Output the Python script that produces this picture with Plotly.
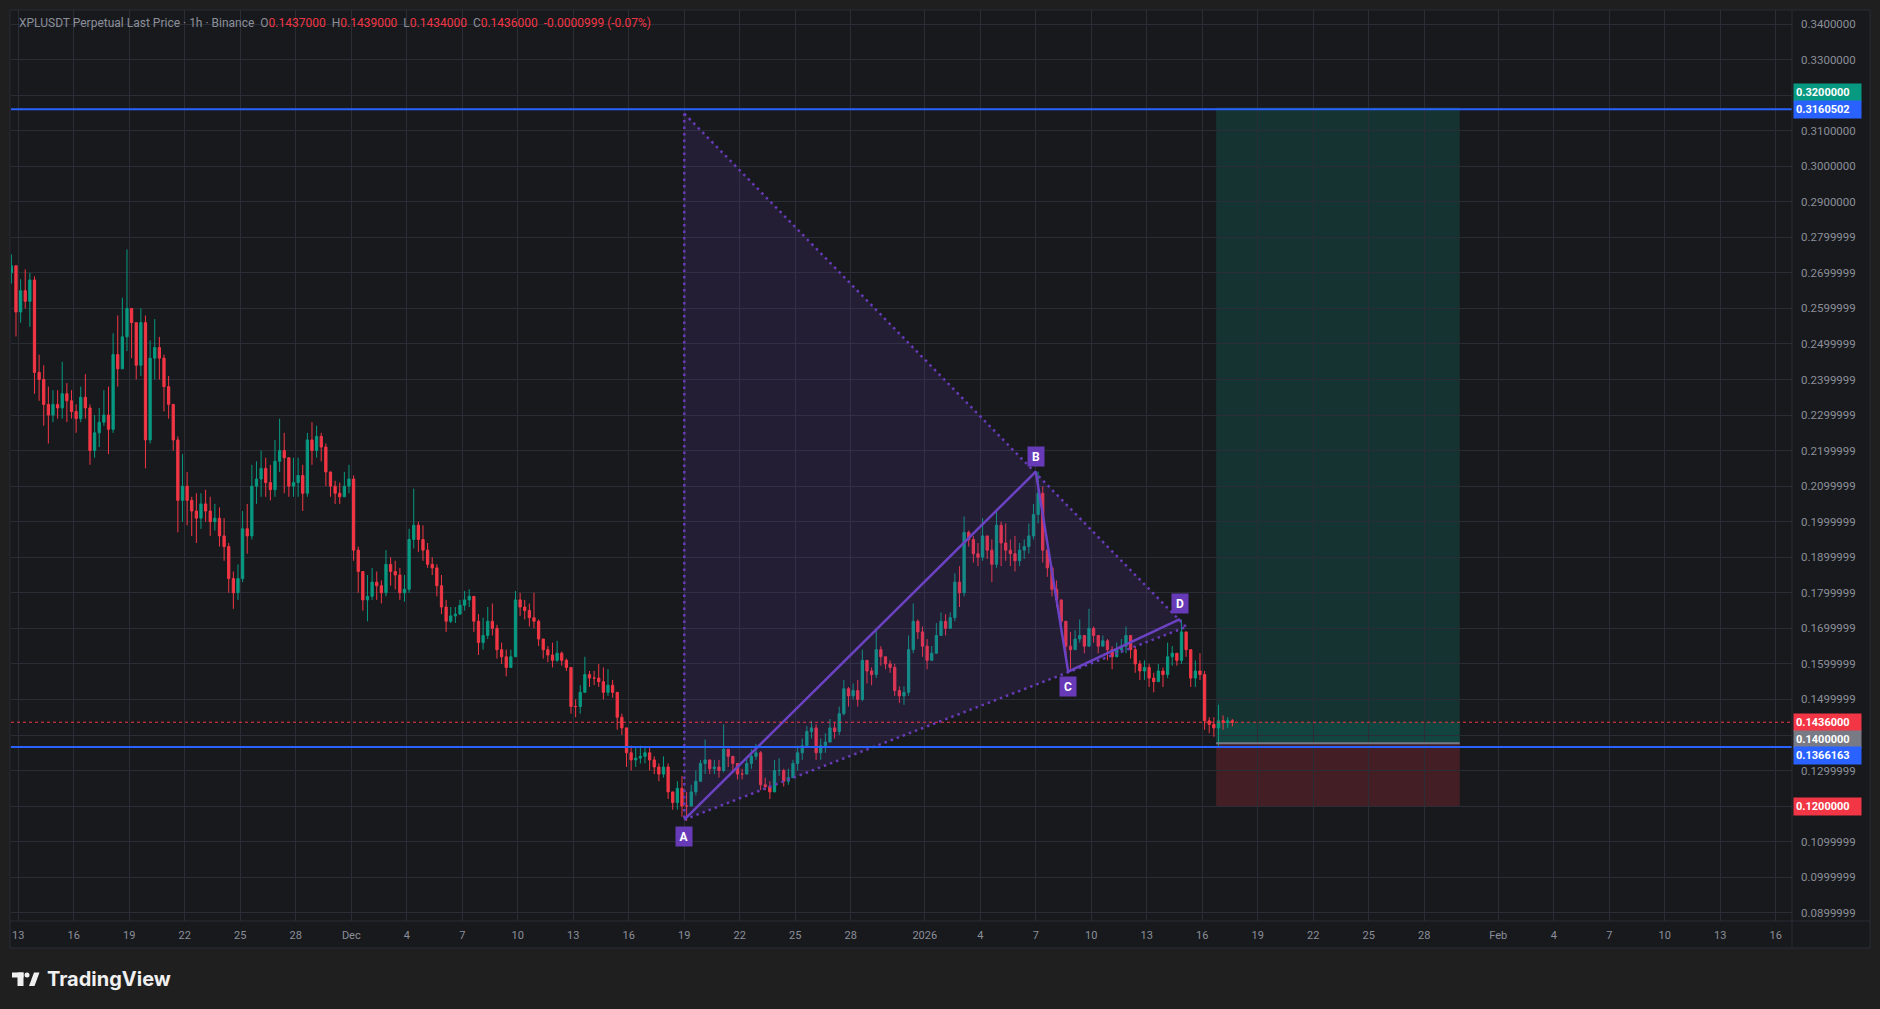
import plotly.graph_objects as go
import pandas as pd

# ---------------- data ----------------
# 6-hour candles, centred at 03/09/15/21h, first one 2025-11-12 15:00 (values in 1e-4 units)
FIRST_CANDLE = "2025-11-12 15:00"
FIRST_OPEN = 2700

close_1e4 = [
    2720, 2590,                      # Nov 12
    2650, 2620, 2680, 2420,          # Nov 13
    2400, 2330, 2300, 2330,          # Nov 14
    2320, 2360, 2340, 2310,          # Nov 15
    2290, 2350, 2320, 2200,          # Nov 16
    2250, 2280, 2300, 2260,          # Nov 17
    2470, 2430, 2520, 2600,          # Nov 18
    2560, 2440, 2560, 2230,          # Nov 19
    2460, 2490, 2460, 2380,          # Nov 20
    2330, 2230, 2060, 2100,          # Nov 21
    2060, 2030, 2010, 2050,          # Nov 22
    2030, 2000, 2010, 1960,          # Nov 23
    1930, 1840, 1800, 1840,          # Nov 24
    1980, 1960, 2100, 2120,          # Nov 25
    2150, 2110, 2090, 2170,          # Nov 26
    2200, 2180, 2100, 2110,          # Nov 27
    2130, 2080, 2230, 2200,          # Nov 28
    2240, 2210, 2140, 2100,          # Nov 29
    2080, 2070, 2100, 2120,          # Nov 30
    1920, 1860, 1780, 1790,          # Dec 1
    1830, 1820, 1800, 1880,          # Dec 2
    1860, 1850, 1800, 1810,          # Dec 3
    1950, 1990, 1950, 1920,          # Dec 4
    1880, 1870, 1820, 1760,          # Dec 5
    1720, 1735, 1740, 1765,          # Dec 6
    1780, 1790, 1720, 1660,          # Dec 7
    1680, 1720, 1700, 1640,          # Dec 8
    1620, 1590, 1620, 1780,          # Dec 9
    1760, 1750, 1730, 1720,          # Dec 10
    1670, 1640, 1625, 1610,          # Dec 11
    1630, 1610, 1590, 1480,          # Dec 12
    1480, 1520, 1570, 1560,          # Dec 13
    1560, 1550, 1520, 1540,          # Dec 14
    1520, 1450, 1420, 1350,          # Dec 15
    1330, 1335, 1340, 1350,          # Dec 16
    1330, 1310, 1290, 1310,          # Dec 17
    1240, 1210, 1250, 1200,          # Dec 18
    1200, 1240, 1270, 1320,          # Dec 19
    1330, 1305, 1310, 1300,          # Dec 20
    1360, 1340, 1320, 1290,          # Dec 21
    1290, 1320, 1340, 1350,          # Dec 22
    1260, 1255, 1240, 1300,          # Dec 23
    1300, 1270, 1280, 1320,          # Dec 24
    1350, 1370, 1410, 1420,          # Dec 25
    1350, 1370, 1380, 1420,          # Dec 26
    1410, 1460, 1530, 1510,          # Dec 27
    1525, 1500, 1610, 1580,          # Dec 28
    1570, 1640, 1620, 1600,          # Dec 29
    1590, 1525, 1510, 1520,          # Dec 30
    1640, 1720, 1690, 1650,          # Dec 31
    1610, 1630, 1680, 1720,          # Jan 1
    1700, 1730, 1830, 1800,          # Jan 2
    1970, 1950, 1910, 1900,          # Jan 3
    1960, 1920, 1880, 1990,          # Jan 4
    1940, 1920, 1910, 1890,          # Jan 5
    1920, 1930, 1960, 2020,          # Jan 6
    2080, 1920, 1870, 1810,          # Jan 7
    1780, 1720, 1650, 1640,          # Jan 8
    1670, 1680, 1650, 1700,          # Jan 9
    1680, 1650, 1665, 1640,          # Jan 10
    1620, 1640, 1650, 1680,          # Jan 11
    1640, 1600, 1580, 1590,          # Jan 12
    1560, 1550, 1580, 1570,          # Jan 13
    1620, 1630, 1610, 1690,          # Jan 14
    1640, 1560, 1580, 1570,          # Jan 15
    1440, 1430, 1420, 1440,          # Jan 16
    1435, 1440, 1436,                # Jan 17
]

high_1e4 = [
    2752, 2720,
    2682, 2710, 2700, 2690,
    2470, 2440, 2380, 2370,
    2370, 2450, 2390, 2370,
    2330, 2380, 2415, 2330,
    2300, 2320, 2370, 2380,
    2530, 2580, 2630, 2766,
    2600, 2530, 2600, 2580,
    2510, 2570, 2520, 2470,
    2410, 2330, 2240, 2190,
    2140, 2070, 2080, 2080,
    2090, 2070, 2050, 2040,
    2010, 1940, 1860, 1880,
    2030, 2050, 2160, 2170,
    2200, 2180, 2160, 2230,
    2290, 2250, 2180, 2180,
    2180, 2160, 2250, 2280,
    2270, 2250, 2220, 2140,
    2115, 2110, 2140, 2160,
    2130, 1930, 1850, 1850,
    1870, 1860, 1835, 1920,
    1900, 1890, 1870, 1850,
    1980, 2093, 2000, 1990,
    1940, 1900, 1880, 1850,
    1780, 1760, 1760, 1780,
    1805, 1810, 1790, 1740,
    1730, 1760, 1770, 1710,
    1660, 1640, 1640, 1805,
    1800, 1780, 1770, 1800,
    1725, 1670, 1650, 1660,
    1665, 1635, 1615, 1590,
    1500, 1540, 1620, 1580,
    1580, 1600, 1590, 1585,
    1555, 1520, 1460, 1420,
    1370, 1365, 1370, 1365,
    1365, 1340, 1320, 1340,
    1320, 1240, 1270, 1285,
    1240, 1260, 1300, 1330,
    1387, 1330, 1330, 1330,
    1430, 1360, 1340, 1320,
    1305, 1340, 1360, 1375,
    1355, 1280, 1270, 1330,
    1335, 1305, 1305, 1330,
    1370, 1390, 1425, 1440,
    1430, 1390, 1405, 1445,
    1435, 1480, 1555, 1535,
    1545, 1555, 1640, 1610,
    1590, 1700, 1650, 1620,
    1610, 1600, 1537, 1537,
    1680, 1770, 1725, 1705,
    1670, 1650, 1715, 1745,
    1740, 1745, 1855, 1875,
    2015, 1975, 1960, 1940,
    2010, 1960, 1950, 2030,
    2000, 1995, 1950, 1960,
    1940, 1950, 1995, 2050,
    2141, 2100, 1930, 1875,
    1835, 1780, 1705, 1690,
    1695, 1725, 1680, 1755,
    1705, 1680, 1680, 1670,
    1650, 1660, 1670, 1705,
    1680, 1650, 1610, 1610,
    1600, 1575, 1600, 1590,
    1660, 1650, 1630, 1725,
    1690, 1630, 1610, 1630,
    1580, 1450, 1450, 1485,
    1455, 1450, 1445,
]

low_1e4 = [
    2670, 2521,
    2560, 2600, 2548, 2360,
    2340, 2270, 2220, 2280,
    2290, 2290, 2280, 2290,
    2250, 2280, 2290, 2160,
    2180, 2210, 2270, 2190,
    2250, 2380, 2460, 2480,
    2460, 2400, 2410, 2150,
    2220, 2400, 2400, 2310,
    2290, 2200, 1970, 2000,
    1990, 1960, 1940, 1980,
    2000, 1960, 1975, 1930,
    1890, 1800, 1755, 1780,
    1830, 1910, 1950, 2050,
    2070, 2070, 2060, 2070,
    2140, 2080, 2070, 2070,
    2070, 2030, 2070, 2160,
    2180, 2170, 2100, 2070,
    2050, 2050, 2070, 2080,
    1890, 1800, 1750, 1720,
    1780, 1780, 1770, 1790,
    1820, 1810, 1780, 1775,
    1800, 1925, 1915, 1890,
    1870, 1850, 1790, 1740,
    1690, 1715, 1715, 1740,
    1750, 1760, 1690, 1625,
    1640, 1670, 1680, 1615,
    1600, 1565, 1590, 1620,
    1735, 1725, 1705, 1700,
    1650, 1615, 1605, 1590,
    1605, 1595, 1580, 1460,
    1450, 1460, 1530, 1535,
    1540, 1535, 1500, 1510,
    1505, 1415, 1400, 1310,
    1300, 1310, 1320, 1320,
    1300, 1290, 1270, 1280,
    1220, 1190, 1190, 1170,
    1158, 1200, 1230, 1280,
    1290, 1290, 1290, 1280,
    1295, 1310, 1300, 1275,
    1275, 1295, 1305, 1330,
    1245, 1245, 1220, 1255,
    1285, 1255, 1260, 1285,
    1300, 1330, 1380, 1390,
    1330, 1330, 1350, 1390,
    1390, 1400, 1455, 1480,
    1500, 1480, 1495, 1545,
    1540, 1560, 1595, 1585,
    1575, 1510, 1490, 1485,
    1510, 1630, 1670, 1620,
    1585, 1610, 1650, 1685,
    1680, 1705, 1720, 1760,
    1790, 1930, 1885, 1875,
    1890, 1895, 1830, 1870,
    1875, 1890, 1875, 1860,
    1875, 1895, 1910, 1950,
    1995, 1885, 1845, 1790,
    1760, 1695, 1620, 1585,
    1640, 1660, 1630, 1650,
    1660, 1630, 1650, 1610,
    1585, 1620, 1630, 1630,
    1615, 1575, 1555, 1555,
    1535, 1520, 1555, 1535,
    1560, 1595, 1595, 1600,
    1620, 1535, 1535, 1555,
    1415, 1405, 1395, 1367,
    1415, 1420, 1424,
]

# pattern drawing (X on top of the vertical dotted line, apex where dotted lines meet)
pattern_labels = ["A", "B", "C", "D"]
pattern_time = ["2025-12-19 00:00", "2026-01-07 00:00", "2026-01-08 18:00", "2026-01-14 19:00"]
pattern_price = [0.1162, 0.2141, 0.1578, 0.1726]
x_point_time, x_point_price = "2025-12-19 00:00", 0.3148
apex_time, apex_price = "2026-01-15 03:00", 0.1704

# horizontal lines
blue_levels = [0.3160502, 0.1366163]
last_price = 0.1436

# long position tool
pos_start, pos_end = "2026-01-16 18:00", "2026-01-29 22:00"
pos_target_top = 0.3165
pos_entry = 0.1377
pos_stop = 0.1200

# price-scale labels: (price, text, colour, pixel shift)
scale_labels = [
    (0.3200000, "0.3200000", "#089981", 3),
    (0.3160502, "0.3160502", "#2962ff", 0),
    (0.1436000, "0.1436000", "#f23645", 0),
    (0.1400000, "0.1400000", "#787b86", -4),
    (0.1366163, "0.1366163", "#2962ff", -8),
    (0.1200000, "0.1200000", "#f23645", 0),
]

ytick_vals = [0.34, 0.33, 0.32, 0.31, 0.30, 0.29, 0.28, 0.27, 0.26, 0.25, 0.24, 0.23, 0.22,
              0.21, 0.20, 0.19, 0.18, 0.17, 0.16, 0.15, 0.14, 0.13, 0.12, 0.11, 0.10, 0.09]
ytick_text = ["0.3400000", "0.3300000", "", "0.3100000", "0.3000000", "0.2900000", "0.2799999",
              "0.2699999", "0.2599999", "0.2499999", "0.2399999", "0.2299999", "0.2199999",
              "0.2099999", "0.1999999", "0.1899999", "0.1799999", "0.1699999", "0.1599999",
              "0.1499999", "", "0.1299999", "", "0.1099999", "0.0999999", "0.0899999"]

xtick_vals = ["2025-11-13", "2025-11-16", "2025-11-19", "2025-11-22", "2025-11-25", "2025-11-28",
              "2025-12-01", "2025-12-04", "2025-12-07", "2025-12-10", "2025-12-13", "2025-12-16",
              "2025-12-19", "2025-12-22", "2025-12-25", "2025-12-28", "2026-01-01", "2026-01-04",
              "2026-01-07", "2026-01-10", "2026-01-13", "2026-01-16", "2026-01-19", "2026-01-22",
              "2026-01-25", "2026-01-28", "2026-02-01", "2026-02-04", "2026-02-07", "2026-02-10",
              "2026-02-13", "2026-02-16"]
xtick_text = ["13", "16", "19", "22", "25", "28", "Dec", "4", "7", "10", "13", "16", "19", "22",
              "25", "28", "2026", "4", "7", "10", "13", "16", "19", "22", "25", "28", "Feb", "4",
              "7", "10", "13", "16"]

x_range = ["2025-11-12 14:32", "2026-02-16 21:02"]
y_range = [0.08768, 0.34394]

# ---------------- styling ----------------
W, H = 1880, 1009
PL, PR, PT, PB = 11, 1792, 10, 921   # plot area in pixels
OUTER_BG = "#1f1f1f"
PANEL_BG = "#18191d"
GRID = "#2a2d36"
TEXT = "#8b8f99"
UP, DOWN = "#089981", "#f23645"
PURPLE = "#673ab7"
FONT = "Roboto"


def px_x(p):
    return (p - PL) / (PR - PL)


def px_y(p):
    return (PB - p) / (PB - PT)


times = pd.date_range(FIRST_CANDLE, periods=len(close_1e4), freq="6h")
closes = [c / 1e4 for c in close_1e4]
opens = [FIRST_OPEN / 1e4] + closes[:-1]
highs = [max(h / 1e4, o, c) for h, o, c in zip(high_1e4, opens, closes)]
lows = [min(l / 1e4, o, c) for l, o, c in zip(low_1e4, opens, closes)]

fig = go.Figure()

# pattern triangle fill
fig.add_trace(go.Scatter(
    x=[x_point_time, pattern_time[0], apex_time, x_point_time],
    y=[x_point_price, pattern_price[0], apex_price, x_point_price],
    mode="lines", fill="toself", fillcolor="rgba(103,58,183,0.15)",
    line=dict(width=0), hoverinfo="skip", showlegend=False))

fig.add_trace(go.Candlestick(
    x=times, open=opens, high=highs, low=lows, close=closes,
    increasing=dict(line=dict(color=UP, width=1), fillcolor=UP),
    decreasing=dict(line=dict(color=DOWN, width=1), fillcolor=DOWN),
    whiskerwidth=0, hoverinfo="skip", showlegend=False))

# dotted edges
for xs, ys in [
    ([x_point_time, pattern_time[0]], [x_point_price, pattern_price[0]]),
    ([x_point_time, apex_time], [x_point_price, apex_price]),
    ([pattern_time[0], apex_time], [pattern_price[0], apex_price]),
]:
    fig.add_trace(go.Scatter(x=xs, y=ys, mode="lines",
                             line=dict(color=PURPLE, width=2.5, dash="2.5px,4px"),
                             hoverinfo="skip", showlegend=False))

# solid A-B-C-D
fig.add_trace(go.Scatter(x=pattern_time, y=pattern_price, mode="lines",
                         line=dict(color="#6c42c4", width=2.5),
                         hoverinfo="skip", showlegend=False))

shapes = []
# outer panel
shapes.append(dict(type="rect", xref="paper", yref="paper", layer="below",
                   x0=px_x(10), x1=px_x(1870), y0=px_y(948), y1=px_y(10),
                   fillcolor=PANEL_BG, line=dict(color="#2a2d36", width=1)))
# position boxes
shapes.append(dict(type="rect", xref="x", yref="y", layer="below",
                   x0=pos_start, x1=pos_end, y0=pos_entry, y1=pos_target_top,
                   fillcolor="rgba(8,153,129,0.2)", line=dict(width=0)))
shapes.append(dict(type="rect", xref="x", yref="y", layer="below",
                   x0=pos_start, x1=pos_end, y0=pos_entry, y1=last_price,
                   fillcolor="rgba(8,153,129,0.18)", line=dict(width=0)))
shapes.append(dict(type="rect", xref="x", yref="y", layer="below",
                   x0=pos_start, x1=pos_end, y0=pos_stop, y1=pos_entry,
                   fillcolor="rgba(242,54,69,0.2)", line=dict(width=0)))
shapes.append(dict(type="line", xref="x", yref="y", layer="above",
                   x0=pos_start, x1=pos_end, y0=pos_entry, y1=pos_entry,
                   line=dict(color="#787b86", width=2)))
# last price dotted line
shapes.append(dict(type="line", xref="paper", yref="y", x0=0, x1=1,
                   y0=last_price, y1=last_price, line=dict(color=DOWN, width=1, dash="dot")))
# blue horizontal lines
for lv in blue_levels:
    shapes.append(dict(type="line", xref="paper", yref="y", x0=0, x1=1, y0=lv, y1=lv,
                       line=dict(color="#2962ff", width=2)))
# axis separators
shapes.append(dict(type="line", xref="paper", yref="paper", x0=px_x(PR), x1=px_x(PR),
                   y0=px_y(948), y1=px_y(10), line=dict(color="#2a2d36", width=1)))
shapes.append(dict(type="line", xref="paper", yref="paper", x0=px_x(10), x1=px_x(1870),
                   y0=px_y(PB), y1=px_y(PB), line=dict(color="#2a2d36", width=1)))
# TradingView logo mark
shapes.append(dict(type="rect", xref="paper", yref="paper", x0=px_x(12), x1=px_x(23.5),
                   y0=px_y(977.5), y1=px_y(972.5), fillcolor="#f0f0f0", line=dict(width=0)))
shapes.append(dict(type="rect", xref="paper", yref="paper", x0=px_x(17.5), x1=px_x(23.5),
                   y0=px_y(986), y1=px_y(972.5), fillcolor="#f0f0f0", line=dict(width=0)))
shapes.append(dict(type="circle", xref="paper", yref="paper", x0=px_x(24.5), x1=px_x(29.5),
                   y0=px_y(977.5), y1=px_y(972.5), fillcolor="#f0f0f0", line=dict(width=0)))
shapes.append(dict(type="path", xref="paper", yref="paper",
                   path="M {} {} L {} {} L {} {} L {} {} Z".format(
                       px_x(29), px_y(986), px_x(34), px_y(972.5),
                       px_x(39.5), px_y(972.5), px_x(34.5), px_y(986)),
                   fillcolor="#f0f0f0", line=dict(width=0)))

annotations = []
# header
grey = "#8b8f99"
red = DOWN
hdr = (f'<span style="color:{grey}">XPLUSDT Perpetual Last Price · 1h · Binance\u00a0\u00a0O</span>'
       f'<span style="color:{red}">0.1437000</span>'
       f'<span style="color:{grey}">\u00a0\u00a0H</span><span style="color:{red}">0.1439000</span>'
       f'<span style="color:{grey}">\u00a0\u00a0L</span><span style="color:{red}">0.1434000</span>'
       f'<span style="color:{grey}">\u00a0\u00a0C</span><span style="color:{red}">0.1436000</span>'
       f'<span style="color:{red}">\u00a0\u00a0-0.0000999 (-0.07%)</span>')
annotations.append(dict(xref="paper", yref="paper", x=px_x(17), y=px_y(23),
                        xanchor="left", yanchor="middle", showarrow=False, text=hdr,
                        font=dict(family=FONT, size=12, color=grey)))
# pattern labels
label_shift = [-17, 15, -15, 16]
for name, t, p, s in zip(pattern_labels, pattern_time, pattern_price, label_shift):
    annotations.append(dict(x=t, y=p, xref="x", yref="y", text=f"<b>{name}</b>",
                            showarrow=False, yshift=s, bgcolor=PURPLE,
                            font=dict(family=FONT, size=12, color="white"),
                            width=12, height=15, borderpad=2))
# price scale labels
for p, txt, col, s in scale_labels:
    annotations.append(dict(xref="paper", yref="y", x=px_x(1792.5), y=p, text=f"<b>{txt}</b>",
                            xanchor="left", yanchor="middle", showarrow=False, yshift=s,
                            bgcolor=col, align="left", width=63, height=13, borderpad=2,
                            font=dict(family=FONT, size=11, color="white")))
# TradingView wordmark
annotations.append(dict(xref="paper", yref="paper", x=px_x(45), y=px_y(979),
                        xanchor="left", yanchor="middle", showarrow=False,
                        text="<b>TradingView</b>",
                        font=dict(family="Inter", size=20, color="#f0f0f0")))

fig.update_layout(
    width=W, height=H,
    margin=dict(l=PL, r=W - PR, t=PT, b=H - PB, pad=0),
    paper_bgcolor=OUTER_BG, plot_bgcolor=PANEL_BG,
    shapes=shapes, annotations=annotations,
    showlegend=False, hovermode=False,
    xaxis=dict(type="date", range=x_range, rangeslider=dict(visible=False),
               tickmode="array", tickvals=xtick_vals, ticktext=xtick_text,
               showgrid=True, gridcolor=GRID, gridwidth=1, zeroline=False,
               showline=False, ticks="", ticklabelstandoff=6,
               tickfont=dict(family=FONT, size=11, color=TEXT)),
    yaxis=dict(range=y_range, side="right", tickmode="array", tickvals=ytick_vals,
               ticktext=ytick_text, showgrid=True, gridcolor=GRID, gridwidth=1,
               zeroline=False, showline=False, ticks="", ticklabelstandoff=8,
               tickfont=dict(family=FONT, size=11.5, color=TEXT)),
)

fig.write_html(
    "out.html",
    config={"displayModeBar": False},
    post_script="document.body.style.margin='0';document.body.style.overflow='hidden';"
                "document.body.style.background='#1f1f1f';",
)
